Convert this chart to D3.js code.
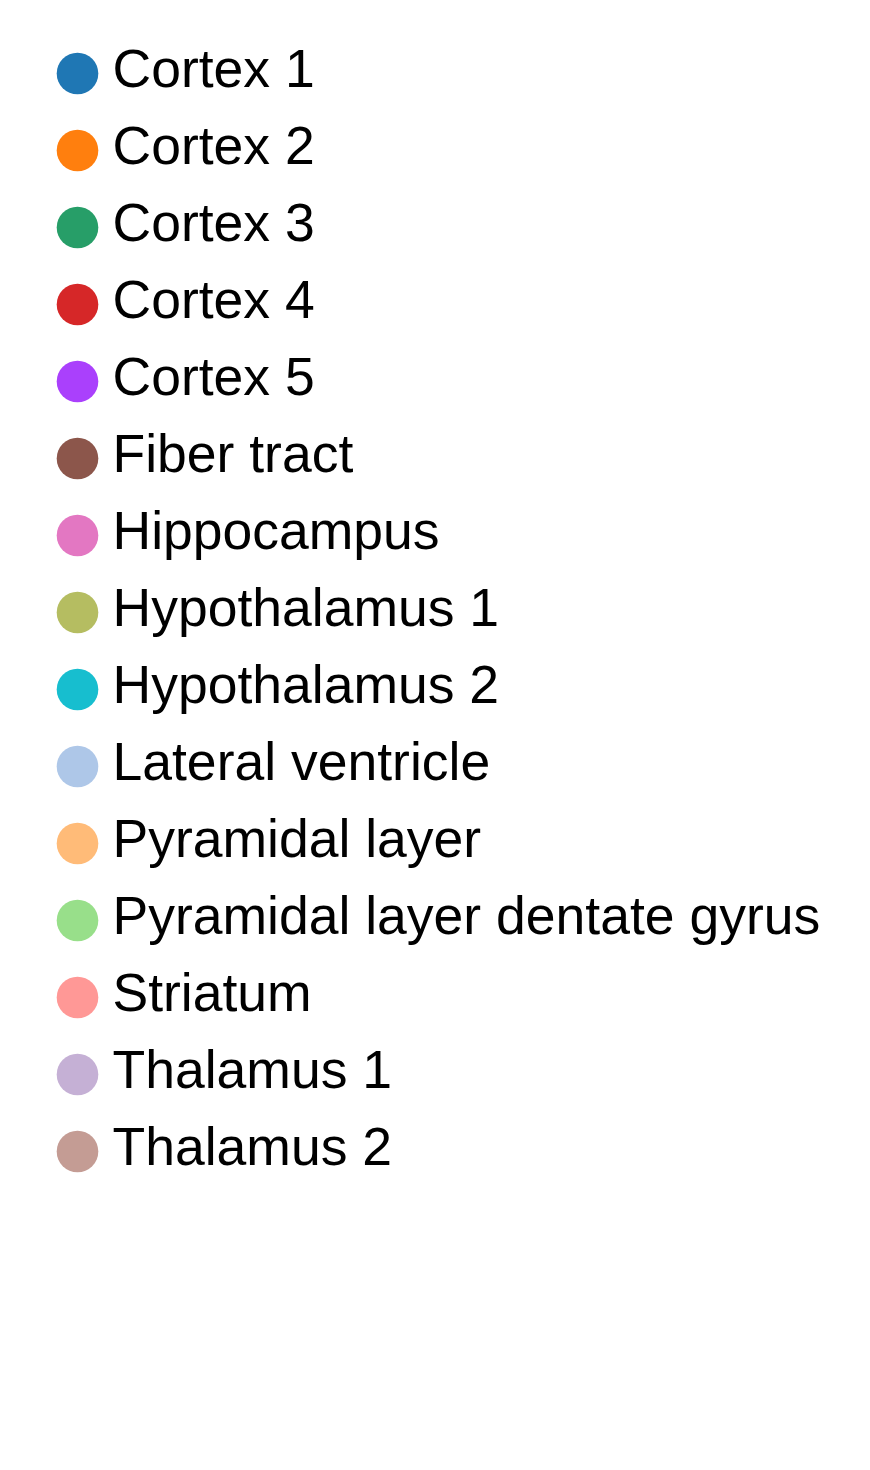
<!DOCTYPE html>
<html><head><meta charset="utf-8">
<script src="https://cdn.jsdelivr.net/npm/d3@7"></script>
<style>html,body{margin:0;padding:0;background:#fff;}</style>
</head><body>
<svg id="chart" width="870" height="1470"></svg>
<script>
const categories = ["Cortex 1","Cortex 2","Cortex 3","Cortex 4","Cortex 5","Fiber tract","Hippocampus","Hypothalamus 1","Hypothalamus 2","Lateral ventricle","Pyramidal layer","Pyramidal layer dentate gyrus","Striatum","Thalamus 1","Thalamus 2"];
const colors = ["#1f77b4","#ff7f0e","#279e68","#d62728","#aa40fc","#8c564b","#e377c2","#b5bd61","#17becf","#aec7e8","#ffbb78","#98df8a","#ff9896","#c5b0d5","#c49c94"];

const svg = d3.select("#chart");
svg.append("rect").attr("width",870).attr("height",1470).attr("fill","#fff");
const y = d3.scalePoint().domain(categories).range([73.5, 73.5 + 77*(categories.length-1)]);
const color = d3.scaleOrdinal().domain(categories).range(colors);

const g = svg.append("g");
const item = g.selectAll("g.item").data(categories).join("g")
  .attr("class","item")
  .attr("transform", d => `translate(0,${y(d)})`);
item.append("circle").attr("cx",77.5).attr("cy",0).attr("r",20.8).attr("fill", d => color(d));
item.append("text").attr("x",112.5).attr("y",13.8)
  .attr("font-family","'Liberation Sans', Arial, sans-serif")
  .attr("font-size",53.5).attr("fill","#000").text(d => d);
</script>
</body></html>
